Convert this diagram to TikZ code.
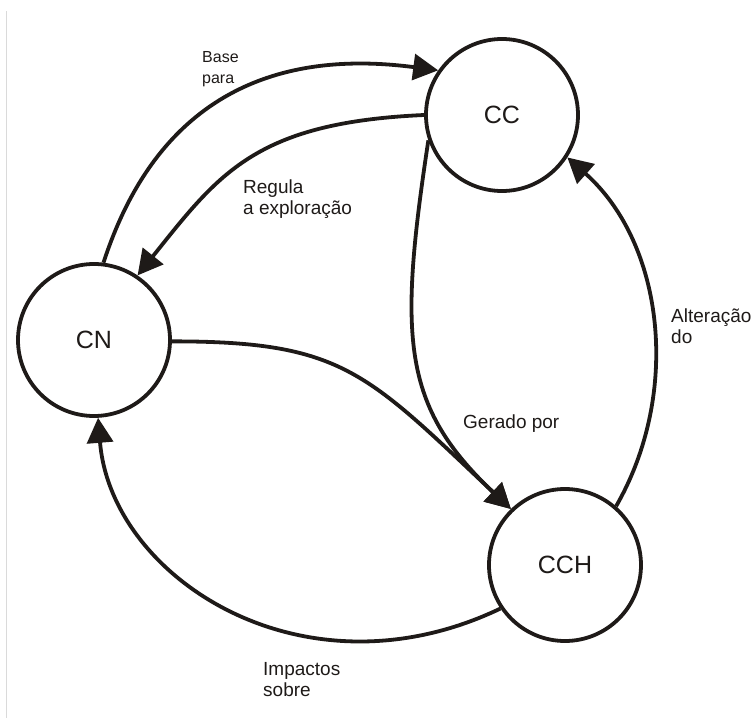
\documentclass[tikz,border=0pt]{standalone}
\usepackage{fontspec}
\setmainfont{Liberation Sans}
\usetikzlibrary{arrows.meta}
\definecolor{ink}{RGB}{30,26,24}
\definecolor{frameline}{RGB}{218,218,218}
% two left-aligned lines whose baseline is that of the first line
\newcommand\twolines[2]{\begin{tabular}[t]{@{}l@{}}#1\\#2\end{tabular}}
\begin{document}
\begin{tikzpicture}[x=1pt,y=-1pt,
  concept/.style={circle, draw=ink, line width=3.8pt, minimum size=152pt,
    inner sep=0pt, text=ink, font=\fontsize{25}{30}\selectfont},
  link/.style={draw=ink, line width=3.8pt,
    -{Triangle[length=25pt,width=26pt]}},
  tag/.style={anchor=base west, inner sep=0pt, text=ink,
    font=\fontsize{19}{21}\selectfont},
]
\useasboundingbox (0,0) rectangle (756,718);
\draw[frameline, line width=1pt] (6,11) -- (6,718);

% concepts
\node[concept] (CC)  at (502,115) {CC};
\node[concept] (CN)  at (94,340)  {CN};
\node[concept] (CCH) at (565,565) {CCH};

% relations
\draw[link] (CN.83)   .. controls +(52.5,-161.7) and +(-168.5,-22.1) .. (CC.145);
\draw[link] (CC.180)  .. controls +(-169,7.5)    and +(81.25,-101.5) .. (CN.56);
\draw[link] (CN.-1)   .. controls +(170,0)       and +(-145.4,-137.4) .. (CCH.134);
\draw[link] (CC.199)  .. controls +(-30,198)     and +(-109,-103)     .. (CCH.134);
\draw[link] (CCH.49)  .. controls +(65,-113.1)   and +(97.2,86.5)     .. (CC.-33);
\draw[link] (CCH.214) .. controls +(-198,94.6)   and +(12.8,159.5)    .. (CN.273);

% relation labels
\node[tag, font=\fontsize{16}{21}\selectfont] (tbase) at (202,62) {\twolines{Base}{para}};
\node[tag] (tregula)  at (243,193) {\twolines{Regula}{a exploração}};
\node[tag] (tgerado)  at (463,428) {Gerado por};
\node[tag] (talter)   at (671,322) {\twolines{Alteração}{do}};
\node[tag] (timpacto) at (263,675) {\twolines{Impactos}{sobre}};
\end{tikzpicture}
\end{document}
